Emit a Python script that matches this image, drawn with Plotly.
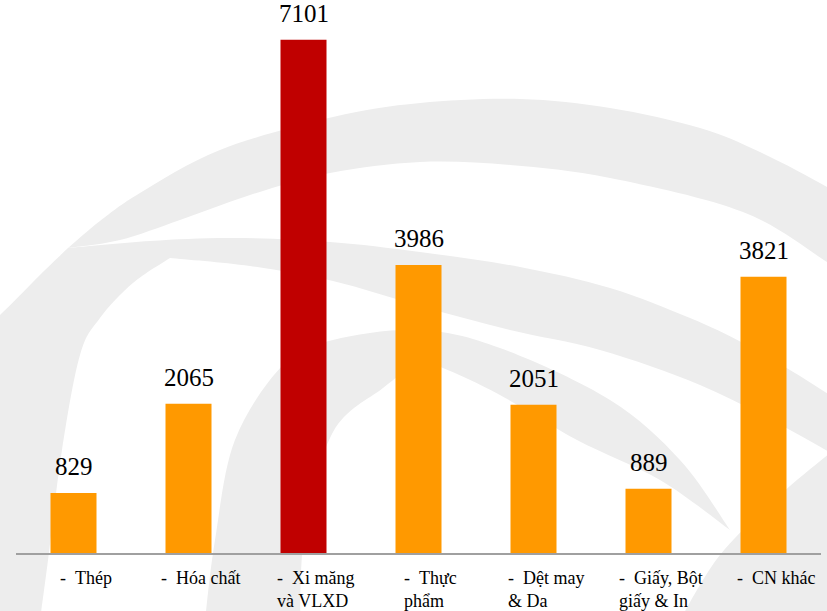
import plotly.graph_objects as go

# ---- data ----
categories = ["Thép", "Hóa chất", "Xi măng và VLXD", "Thực phẩm",
              "Dệt may & Da", "Giấy, Bột giấy & In", "CN khác"]
tick_labels = ["-\u00a0\u00a0Thép", "-\u00a0\u00a0Hóa chất", "-\u00a0\u00a0Xi măng<br>và VLXD",
               "-\u00a0\u00a0Thực<br>phẩm", "-\u00a0\u00a0Dệt may<br>& Da",
               "-\u00a0\u00a0Giấy, Bột<br>giấy & In", "-\u00a0\u00a0CN khác"]
values = [829, 2065, 7101, 3986, 2051, 889, 3821]
highlight = "Xi măng và VLXD"

ORANGE = "#FF9900"
RED = "#C00000"
FONT = "Liberation Serif, Times New Roman, serif"

W, H = 827, 611
ML, MR, MT, MB = 16, 6, 0, 58
PW, PH = W - ML - MR, H - MT - MB
YMAX = 7652

colors = [RED if c == highlight else ORANGE for c in categories]

fig = go.Figure()
fig.add_trace(go.Bar(
    x=categories, y=values, marker=dict(color=colors, line=dict(width=0)),
    width=0.4, hoverinfo="skip", showlegend=False,
))

# value labels
for c, v in zip(categories, values):
    fig.add_annotation(x=c, y=v, xref="x", yref="y", text=str(v), showarrow=False,
                       yanchor="bottom", xanchor="center", yshift=11,
                       font=dict(family=FONT, size=25, color="black"))

# category labels
for c, t in zip(categories, tick_labels):
    fig.add_annotation(x=c, y=0, xref="x", yref="paper", text=t, showarrow=False,
                       yanchor="top", xanchor="center", align="left", xshift=12, yshift=-13,
                       font=dict(family=FONT, size=18, color="black"))


# ---- faint background watermark (decorative) ----
def px2paper(p):
    x, y = p
    return ((x - ML) / PW, (MT + PH - y) / PH)


def smooth(points):
    """Catmull-Rom through pixel points -> SVG cubic segments (paper coords)."""
    pts = [px2paper(p) for p in points]
    segs = []
    for i in range(len(pts) - 1):
        p0 = pts[i - 1] if i > 0 else pts[i]
        p1, p2 = pts[i], pts[i + 1]
        p3 = pts[i + 2] if i + 2 < len(pts) else pts[i + 1]
        c1 = (p1[0] + (p2[0] - p0[0]) / 6, p1[1] + (p2[1] - p0[1]) / 6)
        c2 = (p2[0] - (p3[0] - p1[0]) / 6, p2[1] - (p3[1] - p1[1]) / 6)
        segs.append(f"C{c1[0]:.4f},{c1[1]:.4f} {c2[0]:.4f},{c2[1]:.4f} {p2[0]:.4f},{p2[1]:.4f}")
    return pts[0], " ".join(segs)


def shape_path(edges):
    parts = []
    for k, e in enumerate(edges):
        start, segs = smooth(e)
        parts.append(("M" if k == 0 else "L") + f"{start[0]:.4f},{start[1]:.4f} " + segs)
    return " ".join(parts) + " Z"


WM = "#EDEDED"
wm_shapes = [
    # outer ring (upper part)
    [[(68, 248), (100, 221), (140, 193), (220, 150), (333, 117), (420, 103), (520, 99),
      (610, 108), (700, 128), (760, 152), (827, 187), (860, 210)],
     [(860, 285), (827, 262), (743, 212), (610, 178), (510, 165), (420, 162), (330, 173),
      (250, 195), (180, 220), (120, 240), (68, 248)]],
    # swoosh + lower ring
    [[(68, 248), (150, 241), (233, 238), (330, 242), (420, 252), (520, 267), (610, 288),
      (690, 318), (743, 343), (800, 376), (860, 415)],
     [(860, 470), (790, 430), (700, 385), (600, 350), (510, 330), (420, 306), (333, 281),
      (250, 266), (170, 258)],
     [(170, 258), (133, 283), (100, 318), (80, 355), (62, 450), (48, 560), (40, 620)],
     [(-20, 620), (-20, 330), (0, 315), (40, 275), (68, 248)]],
    # inner arc band
    [[(205, 620), (215, 540), (235, 440), (283, 365), (333, 340), (420, 330), (500, 348),
      (610, 400), (680, 460), (730, 530)],
     [(730, 530), (660, 480), (577, 440), (500, 395), (443, 368), (420, 363), (383, 388),
      (333, 432), (305, 530), (300, 620)]],
    # lower-right piece
    [[(840, 445), (780, 495), (720, 555), (680, 620)],
     [(680, 620), (840, 620), (840, 445)]],
]
shapes = []
for e in wm_shapes:
    shapes.append(dict(type="path", path=shape_path(e), xref="paper", yref="paper",
                       fillcolor=WM, line=dict(width=0), layer="below"))

fig.update_layout(
    width=W, height=H,
    margin=dict(l=ML, r=MR, t=MT, b=MB, pad=0),
    paper_bgcolor="white", plot_bgcolor="rgba(0,0,0,0)",
    shapes=shapes,
    bargap=0.6,
    xaxis=dict(showticklabels=False, ticks="", showgrid=False, zeroline=False,
               showline=True, linecolor="#A0A0A0", linewidth=2, fixedrange=True),
    yaxis=dict(range=[0, YMAX], visible=False, showgrid=False, zeroline=False,
               fixedrange=True),
    font=dict(family=FONT),
)

fig.write_html("out.html", config={"displayModeBar": False},
               post_script="document.body.style.margin='0';document.body.style.overflow='hidden';")
